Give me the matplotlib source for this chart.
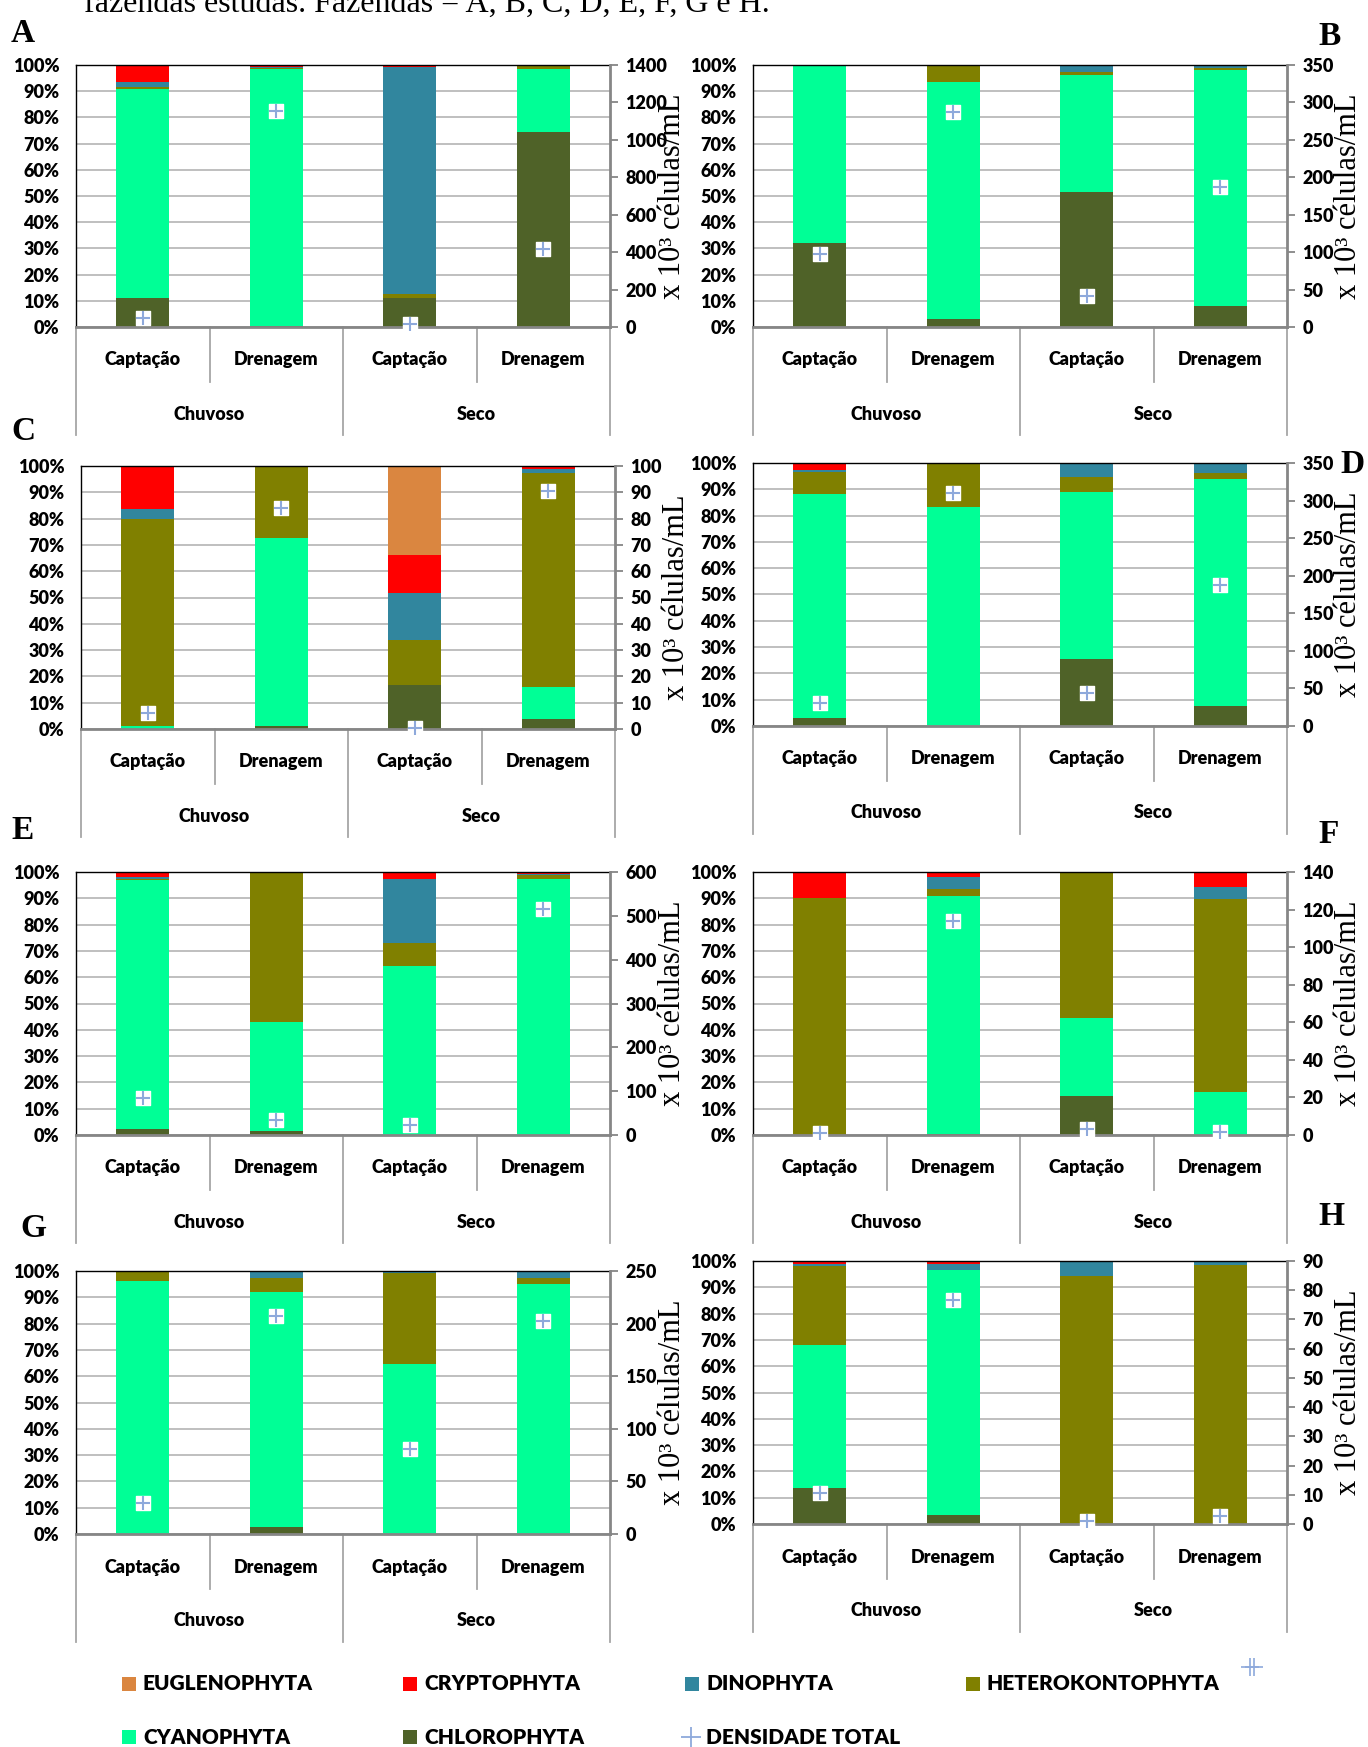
import matplotlib.pyplot as plt
import matplotlib.transforms as mtransforms
from matplotlib.patches import Rectangle
from matplotlib.lines import Line2D

plt.rcParams['font.family'] = ['Lato', 'DejaVu Sans']
plt.rcParams['font.weight'] = 'heavy'

W, H = 1368, 1747

# --- data (percent of total density, one row per farm A..H, columns = sampling points) ---
farms = ['A', 'B', 'C', 'D', 'E', 'F', 'G', 'H']
sites = ['Captação', 'Drenagem', 'Captação', 'Drenagem']
seasons = ['Chuvoso', 'Seco']

chlorophyta = [
    [11.1, 0.2, 11.1, 74.5],
    [32.0, 3.2, 51.6, 8.0],
    [0.1, 1.2, 16.6, 3.8],
    [3.2, 0.0, 25.4, 7.7],
    [2.3, 1.5, 0.0, 0.0],
    [0.0, 0.5, 15.0, 0.0],
    [0.0, 2.8, 0.0, 0.0],
    [13.5, 3.6, 0.0, 0.0],
]
cyanophyta = [
    [79.7, 98.2, 0.0, 24.0],
    [68.0, 90.2, 44.6, 90.1],
    [1.2, 71.3, 0.0, 12.1],
    [85.1, 83.1, 63.4, 86.3],
    [94.5, 41.3, 64.4, 97.2],
    [0.0, 90.4, 29.5, 16.5],
    [96.2, 89.4, 64.8, 94.9],
    [54.7, 92.8, 0.0, 0.0],
]
heterokontophyta = [
    [0.9, 0.6, 1.6, 1.5],
    [0.0, 6.6, 1.3, 0.9],
    [78.4, 27.0, 17.4, 81.6],
    [8.1, 16.9, 5.9, 2.2],
    [0.7, 57.2, 8.7, 1.5],
    [90.2, 2.7, 55.5, 73.3],
    [3.8, 5.3, 34.4, 2.6],
    [29.8, 0.0, 94.3, 98.3],
]
dinophyta = [
    [1.7, 0.2, 86.4, 0.0],
    [0.0, 0.0, 2.5, 0.8],
    [3.8, 0.0, 17.8, 1.5],
    [1.1, 0.0, 5.3, 3.8],
    [0.7, 0.0, 24.1, 0.5],
    [0.0, 4.6, 0.0, 4.6],
    [0.0, 2.5, 0.5, 2.2],
    [0.7, 2.5, 5.7, 1.7],
]
cryptophyta = [
    [6.6, 0.8, 0.9, 0.0],
    [0.0, 0.0, 0.0, 0.2],
    [16.5, 0.0, 14.3, 1.0],
    [2.5, 0.0, 0.0, 0.0],
    [1.8, 0.0, 2.8, 0.8],
    [9.8, 1.8, 0.0, 5.6],
    [0.0, 0.0, 0.0, 0.0],
    [1.3, 1.1, 0.0, 0.0],
]
euglenophyta = [
    [0.0, 0.0, 0.0, 0.0],
    [0.0, 0.0, 0.0, 0.0],
    [0.0, 0.5, 33.9, 0.0],
    [0.0, 0.0, 0.0, 0.0],
    [0.0, 0.0, 0.0, 0.0],
    [0.0, 0.0, 0.0, 0.0],
    [0.0, 0.0, 0.3, 0.3],
    [0.0, 0.0, 0.0, 0.0],
]
# total density (x 10^3 cells/mL), right axis
densidade = [
    [48, 1154, 18, 419],
    [97, 287, 42, 187],
    [6.1, 84, 0.4, 90.5],
    [30, 310, 43.5, 188],
    [85, 34, 23, 516],
    [0.9, 114, 3.2, 1.4],
    [29, 207, 81, 202],
    [10.6, 76.7, 0.9, 2.6],
]
right_max = [1400, 350, 100, 350, 600, 140, 250, 90]
right_step = [200, 50, 10, 50, 100, 20, 50, 10]

stack = [
    ('CHLOROPHYTA', chlorophyta, '#4F6228'),
    ('CYANOPHYTA', cyanophyta, '#00FF96'),
    ('HETEROKONTOPHYTA', heterokontophyta, '#808000'),
    ('DINOPHYTA', dinophyta, '#31869E'),
    ('CRYPTOPHYTA', cryptophyta, '#FF0000'),
    ('EUGLENOPHYTA', euglenophyta, '#DA8640'),
]

# panel boxes in pixels: left, top, right, bottom
boxes = [
    (76, 65, 610, 327), (753, 65, 1287, 327),
    (81, 466, 615, 729), (753, 463, 1287, 726),
    (76, 872, 610, 1135), (753, 872, 1287, 1135),
    (76, 1271, 610, 1534), (753, 1261, 1287, 1524),
]
# panel letters: x, baseline y (pixels)
letters = [(11, 42), (1318, 45), (11, 440), (1340, 473),
           (11, 839), (1318, 843), (20, 1237), (1318, 1225)]

fig = plt.figure(figsize=(W / 100, H / 100), dpi=100)

fig.text(84 / W, 1 - 12 / H, 'fazendas estudas. Fazendas = A, B, C, D, E, F, G e H.',
         family='Liberation Serif', weight='normal', fontsize=23, va='baseline')

grid_c = '#BFBFBF'
axis_c = '#868686'
marker_c = '#8EA9DB'

for k, farm in enumerate(farms):
    l, t, r, b = boxes[k]
    hpx = b - t
    ax = fig.add_axes([l / W, 1 - b / H, (r - l) / W, hpx / H])
    x = list(range(4))
    bottom = [0.0] * 4
    tot = [sum(s[1][k][i] for s in stack) for i in x]
    for name, vals, col in stack:
        v = [vals[k][i] / tot[i] * 100 for i in x]
        ax.bar(x, v, bottom=bottom, width=0.4, color=col, linewidth=0, zorder=2)
        bottom = [bottom[i] + v[i] for i in x]

    ax.set_xlim(-0.5, 3.5)
    ax.set_ylim(0, 100)
    ax.set_xticks([])
    ax.set_yticks(range(0, 101, 10))
    ax.set_yticklabels([f'{v}%' for v in range(0, 101, 10)])
    ax.tick_params(axis='y', length=0, pad=12, labelsize=13)
    ax.yaxis.grid(True, color=grid_c, linewidth=1.4)
    ax.set_axisbelow(True)
    ax.spines['top'].set_color('black')
    ax.spines['top'].set_linewidth(1.0)
    ax.spines['left'].set_color('black')
    ax.spines['left'].set_linewidth(1.0)
    ax.spines['bottom'].set_color(axis_c)
    ax.spines['bottom'].set_linewidth(2.0)
    ax.spines['right'].set_visible(False)

    # category axis (two levels)
    blend = mtransforms.blended_transform_factory(ax.transData, ax.transAxes)
    for i, s in enumerate(sites):
        ax.text(i, -33 / hpx, s, transform=blend, ha='center', va='center', fontsize=13)
    for j, s in enumerate(seasons):
        ax.text(0.5 + 2 * j, -87 / hpx, s, transform=blend, ha='center', va='center', fontsize=13)
    for xs, depth in [(-0.5, 108), (0.5, 55), (1.5, 108), (2.5, 55), (3.5, 108)]:
        ax.plot([xs, xs], [0, -depth / hpx], transform=blend, color='#A6A6A6',
                linewidth=1.3, clip_on=False)

    ax2 = ax.twinx()
    ax2.set_ylim(0, right_max[k])
    ax2.set_yticks(range(0, right_max[k] + 1, right_step[k]))
    ax2.tick_params(axis='y', length=6, width=1.3, color=axis_c, pad=5, labelsize=13)
    for sp in ['top', 'left', 'bottom']:
        ax2.spines[sp].set_visible(False)
    ax2.spines['right'].set_color(axis_c)
    ax2.spines['right'].set_linewidth(2.0)
    ax2.scatter(x, densidade[k], marker='s', s=90, c='white', zorder=3, clip_on=False)
    ax2.scatter(x, densidade[k], marker='+', s=110, c=marker_c, linewidths=1.5,
                zorder=4, clip_on=False)

    ax.text(1 + 62 / (r - l), 0.5, 'x 10³ células/mL', transform=ax.transAxes,
            rotation=90, ha='center', va='center', family='Liberation Serif',
            weight='normal', fontsize=22, clip_on=False)

    lx, ly = letters[k]
    fig.text(lx / W, 1 - ly / H, farm, family='Liberation Serif', weight='bold',
             fontsize=24, va='baseline')

# legend
legend_items = [
    ('EUGLENOPHYTA', '#DA8640', 122, 1684),
    ('CRYPTOPHYTA', '#FF0000', 403, 1684),
    ('DINOPHYTA', '#31869E', 685, 1684),
    ('HETEROKONTOPHYTA', '#808000', 966, 1684),
    ('CYANOPHYTA', '#00FF96', 122, 1737),
    ('CHLOROPHYTA', '#4F6228', 403, 1737),
]
for name, col, lx, ly in legend_items:
    fig.add_artist(Rectangle((lx / W, 1 - (ly + 7) / H), 14 / W, 14 / H,
                             transform=fig.transFigure, color=col, linewidth=0))
    fig.text((lx + 21) / W, 1 - ly / H, name, fontsize=15, va='center')

fig.add_artist(Line2D([691 / W], [1 - 1737 / H], marker='+', markersize=14,
                      color=marker_c, markeredgewidth=1.3, transform=fig.transFigure))
fig.text(706 / W, 1 - 1737 / H, 'DENSIDADE TOTAL', fontsize=15, va='center')
for dx in (0, 4):
    fig.add_artist(Line2D([(1250 + dx) / W], [1 - 1667 / H], marker='+', markersize=13,
                          color=marker_c, markeredgewidth=1.2, transform=fig.transFigure))

fig.savefig('out.png', dpi=100)
